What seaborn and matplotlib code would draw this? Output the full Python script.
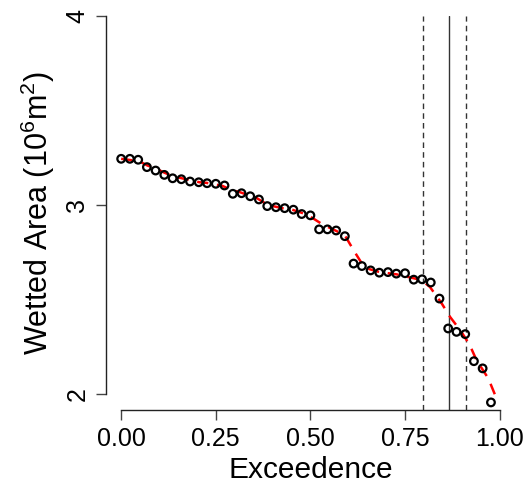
import matplotlib
matplotlib.use("Agg")
import matplotlib.pyplot as plt
import seaborn as sns
import pandas as pd

# Exceedence probability of each observation and its wetted area (10^6 m^2)
exceedence = [0.000, 0.023, 0.045, 0.068, 0.091, 0.114, 0.136, 0.159, 0.182, 0.205,
              0.227, 0.250, 0.273, 0.295, 0.318, 0.341, 0.364, 0.386, 0.409, 0.432,
              0.455, 0.477, 0.500, 0.523, 0.545, 0.568, 0.591, 0.614, 0.636, 0.659,
              0.682, 0.705, 0.727, 0.750, 0.773, 0.795, 0.818, 0.841, 0.864, 0.886,
              0.909, 0.932, 0.955, 0.977]
wetted_area = [3.245, 3.245, 3.240, 3.201, 3.183, 3.160, 3.142, 3.137, 3.125, 3.121,
               3.116, 3.113, 3.104, 3.060, 3.063, 3.047, 3.030, 2.995, 2.989, 2.984,
               2.976, 2.953, 2.946, 2.872, 2.872, 2.866, 2.836, 2.691, 2.678, 2.655,
               2.643, 2.646, 2.638, 2.640, 2.606, 2.608, 2.591, 2.506, 2.348, 2.330,
               2.318, 2.175, 2.137, 1.957]

# Smoothed exceedence curve
fit_x = [0.000, 0.048, 0.070, 0.088, 0.115, 0.132, 0.154, 0.167, 0.207, 0.225,
         0.247, 0.265, 0.291, 0.313, 0.339, 0.357, 0.375, 0.401, 0.432, 0.450,
         0.472, 0.489, 0.511, 0.529, 0.556, 0.569, 0.591, 0.604, 0.617, 0.639,
         0.652, 0.683, 0.728, 0.776, 0.794, 0.816, 0.847, 0.869, 0.899, 0.921,
         0.939, 0.970, 0.988]
fit_y = [3.245, 3.232, 3.209, 3.197, 3.171, 3.157, 3.145, 3.139, 3.121, 3.118,
         3.109, 3.104, 3.081, 3.069, 3.051, 3.039, 3.016, 2.995, 2.981, 2.977,
         2.963, 2.951, 2.925, 2.902, 2.875, 2.863, 2.840, 2.796, 2.752, 2.682,
         2.664, 2.646, 2.634, 2.612, 2.603, 2.567, 2.480, 2.409, 2.330, 2.260,
         2.180, 2.084, 1.996]

# Reference exceedence levels: central value and bounds
central_level = 0.866
bound_levels = [0.798, 0.910]

x_ticks = [0.0, 0.25, 0.5, 0.75, 1.0]
x_tick_labels = ["0.00", "0.25", "0.50", "0.75", "1.00"]
y_ticks = [2, 3, 4]
y_tick_labels = ["2", "3", "4"]

sns.set_style("ticks")
plt.rcParams["font.family"] = ["Liberation Sans", "DejaVu Sans"]
plt.rcParams["mathtext.fontset"] = "custom"
plt.rcParams["mathtext.rm"] = "Liberation Sans"
plt.rcParams["mathtext.it"] = "Liberation Sans"
plt.rcParams["text.color"] = "black"
plt.rcParams["axes.labelcolor"] = "black"
plt.rcParams["xtick.labelcolor"] = "black"
plt.rcParams["ytick.labelcolor"] = "black"

obs = pd.DataFrame({"exceedence": exceedence, "area": wetted_area})
fit = pd.DataFrame({"exceedence": fit_x, "area": fit_y})

fig = plt.figure(figsize=(5.28, 4.91), dpi=100)
ax = fig.add_axes([0.2008, 0.165, 0.7742, 0.8024])

for lvl in bound_levels:
    ax.axvline(lvl, color="#333333", lw=1.0, ls=(0, (4, 3)), zorder=1)
ax.axvline(central_level, color="#333333", lw=1.0, zorder=1)

sns.lineplot(data=fit, x="exceedence", y="area", ax=ax, color="red",
             lw=1.8, sort=False, estimator=None, zorder=2)
ax.lines[-1].set_dashes((4.5, 3.5))

sns.scatterplot(data=obs, x="exceedence", y="area", ax=ax, marker="o",
                s=30, facecolor="none", edgecolor="black", linewidth=1.6, zorder=3)

ax.set_xlim(-0.04, 1.04)
ax.set_ylim(1.917, 4.0)

ax.set_xticks(x_ticks)
ax.set_xticklabels(x_tick_labels)
ax.set_yticks(y_ticks)
ax.set_yticklabels(y_tick_labels, rotation=90, va="center")

for side in ("top", "right"):
    ax.spines[side].set_visible(False)
ax.spines["left"].set_bounds(2, 4)
ax.spines["bottom"].set_bounds(0, 1)
for side in ("left", "bottom"):
    ax.spines[side].set_linewidth(1.0)
    ax.spines[side].set_color("#222222")

ax.tick_params(axis="both", length=7, width=1.0, color="#444444",
               labelsize=18, pad=5, labelcolor="black")

ax.set_xlabel("Exceedence", fontsize=21.5, labelpad=4, color="black")
ax.set_ylabel(r"Wetted Area (10$^6$m$^2$)", fontsize=22, labelpad=6, color="black")

fig.savefig("out.png", dpi=100)
